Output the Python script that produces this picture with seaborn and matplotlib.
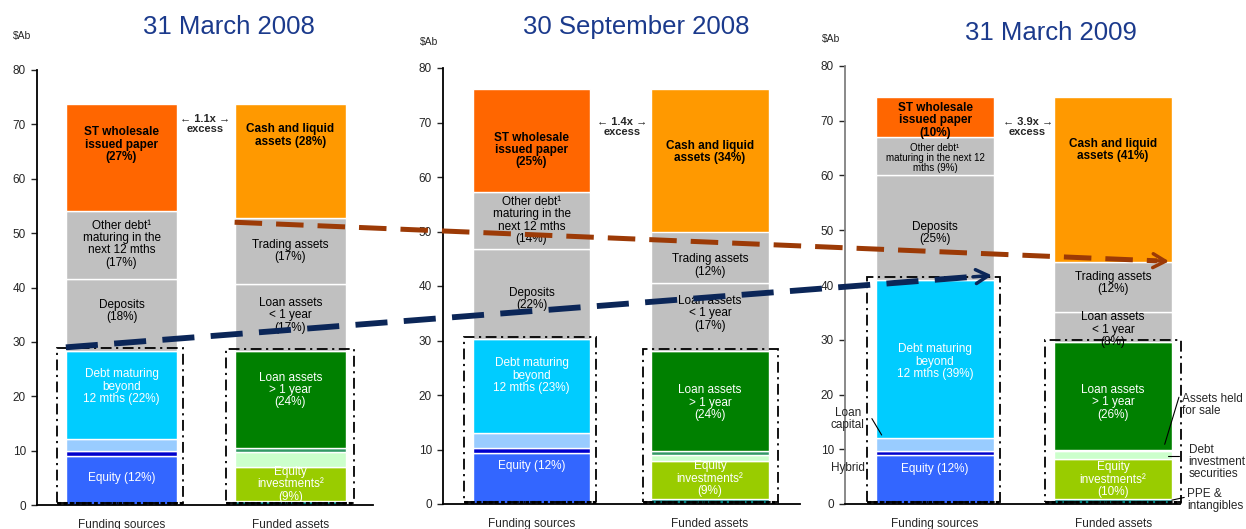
import matplotlib
matplotlib.use("Agg")
import matplotlib.pyplot as plt
import seaborn as sns
import numpy as np
from matplotlib.patches import Rectangle, FancyArrowPatch
from matplotlib.lines import Line2D

# Data ($Ab), bottom segment first
titles = ['31 March 2008', '30 September 2008', '31 March 2009']
sides = ['Funding sources', 'Funded assets']
excess = ['1.1x', '1.4x', '3.9x']

funding_parts = ['Equity', 'Hybrid', 'Loan capital', 'Debt maturing beyond 12 mths',
                 'Deposits', 'Other debt', 'ST wholesale issued paper']
funded_parts = ['PPE & intangibles', 'Equity investments', 'Debt investment securities',
                'Assets held for sale', 'Loan assets > 1 year', 'Loan assets < 1 year',
                'Trading assets', 'Cash and liquid assets']

funding_mar08 = [9.0, 0.9, 2.3, 16.1, 13.2, 12.5, 19.7]
funded_mar08 = [0.7, 6.2, 2.8, 0.7, 17.9, 12.4, 12.1, 20.9]
funding_sep08 = [9.4, 0.8, 2.8, 17.2, 16.6, 10.5, 18.9]
funded_sep08 = [0.9, 7.0, 1.1, 0.8, 18.3, 12.4, 9.5, 26.2]
funding_mar09 = [9.0, 0.6, 2.5, 28.9, 19.0, 7.0, 7.4]
funded_mar09 = [1.0, 7.2, 1.5, 0.1, 19.8, 5.4, 9.2, 30.2]

labels_funding_mar08 = ['Equity (12%)', '', '', 'Debt maturing\nbeyond\n12 mths (22%)', 'Deposits\n(18%)',
                        'Other debt¹\nmaturing in the\nnext 12 mths\n(17%)', 'ST wholesale\nissued paper\n(27%)']
labels_funded_mar08 = ['', 'Equity\ninvestments²\n(9%)', '', '', 'Loan assets\n> 1 year\n(24%)',
                       'Loan assets\n< 1 year\n(17%)', 'Trading assets\n(17%)', 'Cash and liquid\nassets (28%)']
labels_funding_sep08 = ['Equity (12%)', '', '', 'Debt maturing\nbeyond\n12 mths (23%)', 'Deposits\n(22%)',
                        'Other debt¹\nmaturing in the\nnext 12 mths\n(14%)', 'ST wholesale\nissued paper\n(25%)']
labels_funded_sep08 = ['', 'Equity\ninvestments²\n(9%)', '', '', 'Loan assets\n> 1 year\n(24%)',
                       'Loan assets\n< 1 year\n(17%)', 'Trading assets\n(12%)', 'Cash and liquid\nassets (34%)']
labels_funding_mar09 = ['Equity (12%)', '', '', 'Debt maturing\nbeyond\n12 mths (39%)', 'Deposits\n(25%)',
                        'Other debt¹\nmaturing in the next 12\nmths (9%)', 'ST wholesale\nissued paper\n(10%)']
labels_funded_mar09 = ['', 'Equity\ninvestments²\n(10%)', '', '', 'Loan assets\n> 1 year\n(26%)',
                       'Loan assets\n< 1 year\n(8%)', 'Trading assets\n(12%)', 'Cash and liquid\nassets (41%)']

funding_colors = ['#3366FF', '#0000CC', '#99CCFF', '#00CCFF', '#C0C0C0', '#C0C0C0', '#FF6600']
funded_colors = ['#008080', '#99CC00', '#CCFFCC', '#339966', '#008000', '#C0C0C0', '#C0C0C0', '#FF9900']
white_text_funding = [True, False, False, True, False, False, False]
white_text_funded = [False, True, False, False, True, False, False, False]

# label nudges from segment centre (style only)
funding_offsets = [[0.4, 0, 0, 1.5, 0.8, 0.2, 2.4], [2.3, 0, 0, 1.9, -0.9, 0, -1.8], [1.9, 0, 0, -0.6, -1.0, -0.3, -0.6]]
funded_offsets = [[0, 0, 0, 0, 1.8, 0.4, 0, 4.7], [0, 0.2, 0, 0, -0.4, 0.7, -1.5, 1.5], [0, -0.2, 0, 0, -1.1, -0.5, 0.8, 5.4]]

panels = [
    (funding_mar08, funded_mar08, labels_funding_mar08, labels_funded_mar08),
    (funding_sep08, funded_sep08, labels_funding_sep08, labels_funded_sep08),
    (funding_mar09, funded_mar09, labels_funding_mar09, labels_funded_mar09),
]

sns.set_style("white")
plt.rcParams['font.family'] = ['Liberation Sans', 'DejaVu Sans']

W, H = 1246, 529
fig = plt.figure(figsize=(W / 100, H / 100), dpi=100)

panel_px = [(37, 373, 505, 70), (443, 800, 504, 68), (845, 1180, 504, 66)]
xlims = [(-0.501, 1.49), (-0.496, 1.504), (-0.506, 1.376)]
bar_w = [0.66, 0.656, 0.663]
title_pos = [(229, 27), (636, 27), (1051, 33)]
ab_pos = [(13, 36), (420, 42), (822, 39)]
excess_x = [0.496, 0.507, 0.52]
excess_y = [70.0, 69.1, 68.8]

axes = []
for i, (fund, used, lab_f, lab_u) in enumerate(panels):
    l, r, b, t = panel_px[i]
    ax = fig.add_axes([l / W, (H - b) / H, (r - l) / W, (b - t) / H])
    axes.append(ax)
    w = bar_w[i]

    for side, vals, cols, labs, whites, offs in [
        (sides[0], fund, funding_colors, lab_f, white_text_funding, funding_offsets[i]),
        (sides[1], used, funded_colors, lab_u, white_text_funded, funded_offsets[i]),
    ]:
        xpos = sides.index(side)
        bottoms = np.concatenate([[0], np.cumsum(vals)[:-1]])
        for k, (v, bot, c) in enumerate(zip(vals, bottoms, cols)):
            sns.barplot(x=[side], y=[v], bottom=bot, order=sides, color=c, saturation=1,
                        width=w, edgecolor='white', linewidth=1, errorbar=None, ax=ax)
            if labs[k]:
                bold = k == len(vals) - 1
                fs = 7 if (i == 2 and labs[k].startswith('Other')) else 8.5
                ax.text(xpos, bot + v / 2 + offs[k], labs[k], ha='center', va='center',
                        fontsize=fs, color='white' if whites[k] else 'black',
                        fontweight='bold' if bold else 'normal', linespacing=1.05, zorder=4)

    # dash-dot boxes round the long-term blocks
    top_f = sum(fund[:4]) + 0.5
    top_u = sum(used[:5]) + 0.3
    for x0, x1, top in [(-w / 2 - 0.05, w / 2 + 0.035, top_f), (1 - w / 2 - 0.05, 1 + w / 2 + 0.05, top_u)]:
        ax.add_patch(Rectangle((x0, 0.4), x1 - x0, top - 0.4, fill=False, ec='black', lw=1.3,
                               ls=(0, (6, 2.5, 1.2, 2.5)), clip_on=False, zorder=5))
        ax.plot([x0, x1], [0.4, 0.4], color='black', lw=2.2, ls=(0, (1.2, 0.8)), clip_on=False, zorder=5)

    ax.text(excess_x[i], excess_y[i], '\u2190 ' + excess[i] + ' \u2192\nexcess', ha='center', va='center',
            fontsize=8, fontweight='bold', linespacing=1.0)

    ax.set_xlim(*xlims[i])
    ax.set_ylim(0, 80)
    ax.set_yticks(range(0, 81, 10))
    ax.set_xlabel('')
    ax.set_ylabel('')
    ax.tick_params(axis='y', length=4, width=1, direction='out', pad=4, labelsize=8.5, left=True)
    ax.tick_params(axis='x', length=0, pad=10, labelsize=8.5)
    for s in ['top', 'right']:
        ax.spines[s].set_visible(False)
    spine_col = '#808080' if i == 2 else 'black'
    ax.spines['left'].set_color(spine_col)
    ax.spines['bottom'].set_color('black')
    ax.spines['left'].set_linewidth(1.3)
    ax.spines['bottom'].set_linewidth(1.3)

    fig.text(title_pos[i][0] / W, 1 - title_pos[i][1] / H, titles[i], ha='center', va='center',
             fontsize=18.5, color='#1B3A8C')
    fig.text(ab_pos[i][0] / W, 1 - ab_pos[i][1] / H, '$Ab', ha='left', va='center', fontsize=7.5)

ax3 = axes[2]
ann = dict(fontsize=8.5, linespacing=1.0, clip_on=False)
ax3.text(-0.49, 15.6, 'Loan\ncapital', ha='center', va='center', **ann)
ax3.plot([-0.355, -0.3], [15.6, 12.6], color='black', lw=0.8, clip_on=False)
ax3.text(-0.49, 6.6, 'Hybrid', ha='center', va='center', **ann)
ax3.text(1.39, 18.1, 'Assets held\nfor sale', ha='left', va='center', **ann)
ax3.plot([1.37, 1.29], [19.5, 10.9], color='black', lw=0.8, clip_on=False)
ax3.text(1.425, 7.7, 'Debt\ninvestment\nsecurities', ha='left', va='center', **ann)
ax3.plot([1.31, 1.37], [8.7, 8.7], color='black', lw=0.8, clip_on=False)
ax3.text(1.415, 0.7, 'PPE &\nintangibles', ha='left', va='center', **ann)
ax3.plot([1.33, 1.4], [0.7, 1.2], color='black', lw=0.8, clip_on=False)


def to_fig(ax, x, y):
    return fig.transFigure.inverted().transform(ax.transData.transform((x, y)))


# dashed trend arrows running across the three panels
for (a0, p0), (a1, p1), col, lw in [
    ((axes[0], (0.67, 52.0)), (axes[2], (1.33, 44.3)), '#9C3A06', 3.6),
    ((axes[0], (-0.33, 29.0)), (axes[2], (0.335, 41.8)), '#0B2658', 4.2),
]:
    s = to_fig(a0, *p0)
    e = to_fig(a1, *p1)
    d = (e - s) / np.hypot(*(e - s))
    stop = e - d * 0.012
    fig.add_artist(Line2D([s[0], stop[0]], [s[1], stop[1]], transform=fig.transFigure, color=col,
                          lw=lw, dashes=(5.5, 2.8), solid_capstyle='butt', dash_capstyle='butt', zorder=6))
    fig.add_artist(FancyArrowPatch(e - d * 0.02, e, transform=fig.transFigure,
                                   arrowstyle='->,head_length=0.9,head_width=0.5',
                                   color=col, lw=2.5, mutation_scale=10, zorder=6))

fig.savefig('out.png', dpi=100)
